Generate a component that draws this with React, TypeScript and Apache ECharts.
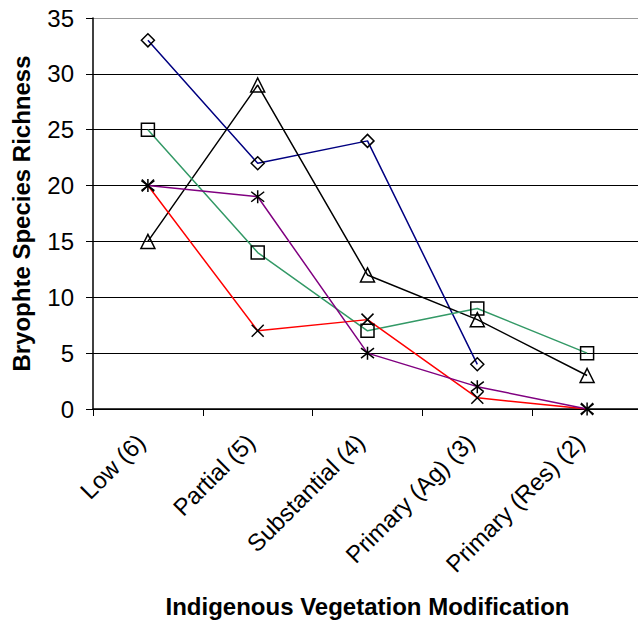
import React, { useEffect, useRef } from "react";
import * as echarts from "echarts";

const categories = ["Low (6)", "Partial (5)", "Substantial (4)", "Primary (Ag) (3)", "Primary (Res) (2)"];
const diamondSeries = [33, 22, 24, 4, null];
const triangleSeries = [15, 29, 12, 8, 3];
const squareSeries = [25, 14, 7, 9, 5];
const crossSeries = [20, 7, 8, 1, 0];
const asteriskSeries = [20, 19, 5, 2, 0];

const X_PATH = "path://M0,0L10,10M10,0L0,10";
const AST_PATH = "path://M0,0L10,10M10,0L0,10M5,-1.5L5,11.5";

function mk(name: string, data: (number | null)[], color: string, symbol: string, size: number) {
  return {
    name,
    type: "line",
    data,
    symbol,
    symbolSize: size,
    showAllSymbol: true,
    connectNulls: false,
    lineStyle: { color, width: 1.5 },
    itemStyle: { color: "rgba(0,0,0,0)", borderColor: "#000", borderWidth: 1.5 },
    emphasis: { disabled: true },
    z: 2,
  };
}

export default function App() {
  const ref = useRef<HTMLDivElement>(null);
  useEffect(() => {
    const chart = echarts.init(ref.current!, null, { renderer: "svg" });
    chart.setOption({
      animation: false,
      backgroundColor: "#fff",
      textStyle: { fontFamily: "Liberation Sans, Arial, sans-serif" },
      grid: { left: 93, top: 18, right: -4, bottom: 212, containLabel: false, outerBoundsMode: "none" },
      xAxis: {
        type: "category",
        data: categories,
        boundaryGap: true,
        axisLine: { lineStyle: { color: "#000", width: 1.5 } },
        axisTick: { show: true, length: 7, lineStyle: { color: "#000" }, alignWithLabel: false },
        axisLabel: { rotate: 45, fontSize: 24, color: "#000", margin: 22, interval: 0, padding: [0, 10, 0, 0] },
        name: "Indigenous Vegetation Modification",
        nameLocation: "middle",
        nameGap: 185,
        nameTextStyle: { fontSize: 24, fontWeight: "bold", color: "#000" },
      },
      yAxis: {
        type: "value",
        min: 0,
        max: 35,
        interval: 5,
        axisLine: { show: true, lineStyle: { color: "#000", width: 1.5 } },
        axisTick: { show: true, length: 7, lineStyle: { color: "#000" } },
        axisLabel: { fontSize: 24, color: "#000", margin: 19 },
        splitLine: {
          lineStyle: {
            color: ["#000", "#000", "#000", "#000", "#000", "#000", "#000", "#999"],
            width: 1.2,
          },
        },
        name: "Bryophte Species Richness",
        nameLocation: "middle",
        nameGap: 60,
        nameTextStyle: { fontSize: 24, fontWeight: "bold", color: "#000" },
      },
      series: [
        mk("Diamond", diamondSeries, "#000080", "diamond", 13),
        mk("Triangle", triangleSeries, "#000000", "triangle", 14),
        mk("Square", squareSeries, "#339966", "rect", 13),
        mk("Cross", crossSeries, "#ff0000", X_PATH, 12),
        mk("Asterisk", asteriskSeries, "#800080", AST_PATH, 13),
      ],
    });
    return () => chart.dispose();
  }, []);
  return <div ref={ref} style={{ width: 638, height: 621, position: "absolute", left: 0, top: 0 }} />;
}
